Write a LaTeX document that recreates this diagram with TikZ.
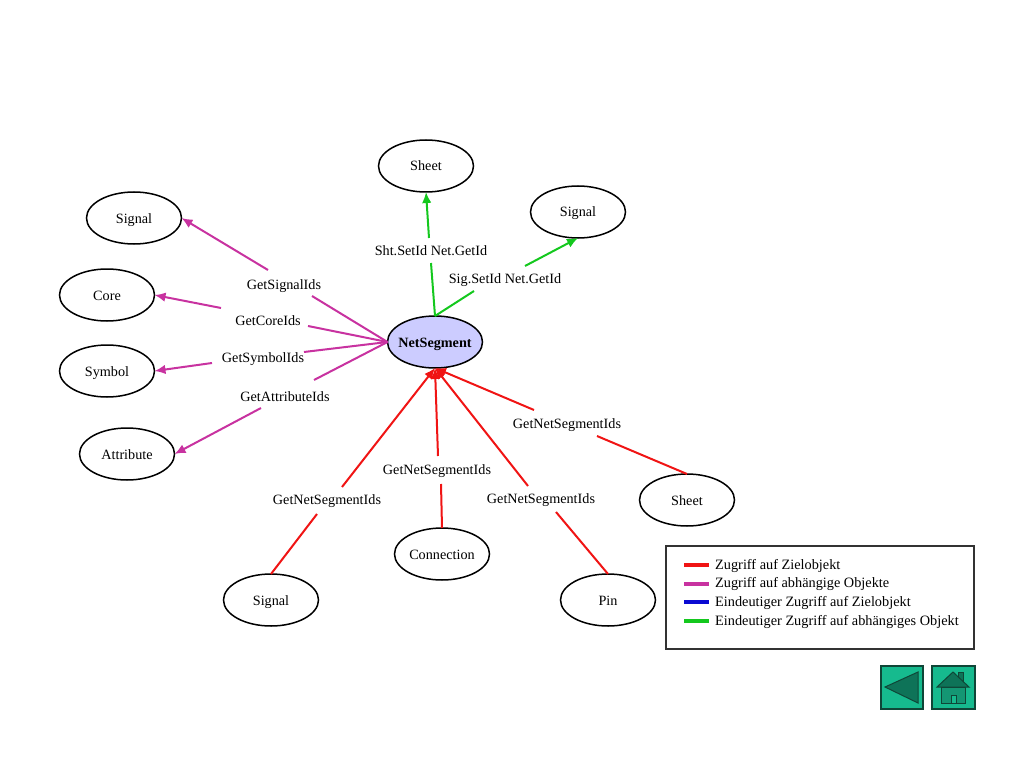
\documentclass[tikz,border=0pt]{standalone}
\usepackage{fontspec}
\setmainfont{Liberation Serif}
\usetikzlibrary{shapes.geometric,arrows.meta}
\definecolor{cred}{RGB}{240,20,20}
\definecolor{cmag}{RGB}{200,50,160}
\definecolor{cgrn}{RGB}{20,200,30}
\definecolor{cblu}{RGB}{10,10,210}
\definecolor{btn}{RGB}{22,186,142}
\definecolor{btnd}{RGB}{14,115,88}
\definecolor{btnm}{RGB}{20,150,115}
\definecolor{edgeg}{RGB}{15,70,55}
\tikzset{
 obj/.style={draw=black,line width=1.5pt,ellipse,minimum width=95pt,minimum height=52pt,inner xsep=-12pt,inner ysep=0pt,outer sep=0pt,text height=10pt,text depth=0pt,font=\fontsize{14.2}{16}\selectfont},
 lab/.style={inner sep=0pt,text height=9pt,text depth=0pt,font=\fontsize{14.2}{16}\selectfont},
 arr/.style={line width=2pt,-{Latex[length=11pt,width=9.5pt]}},
 seg/.style={line width=2pt},
 legline/.style={line width=3.4pt},
 legtxt/.style={anchor=base west,inner sep=0pt,font=\fontsize{14.3}{16}\selectfont},
 btnbox/.style={draw=edgeg,line width=1.2pt,fill=btn},
 btnpart/.style={draw=edgeg,line width=1pt,fill=btnd}
}
\begin{document}
\begin{tikzpicture}[x=1pt,y=-1pt]
\useasboundingbox (0,0) rectangle (1024,767);
% nodes
\node[obj,fill={rgb,255:red,204;green,204;blue,255},font=\fontsize{14.2}{16}\selectfont\bfseries] (ns) at (435,342) {NetSegment};
\node[obj] (sheetA) at (426,166) {Sheet};
\node[obj] (signalA) at (578,212) {Signal};
\node[obj] (signalB) at (134,218) {Signal};
\node[obj] (core) at (107,295) {Core};
\node[obj] (symbol) at (107,371) {Symbol};
\node[obj] (attr) at (127,454) {Attribute};
\node[obj] (sheetB) at (687,500) {Sheet};
\node[obj] (conn) at (442,554) {Connection};
\node[obj] (signalC) at (271,600) {Signal};
\node[obj] (pin) at (608,600) {Pin};
% labels
\node[lab] (lsig) at (284,285) {GetSignalIds};
\node[lab] (lcore) at (268,321) {GetCoreIds};
\node[lab] (lsym) at (263,358) {GetSymbolIds};
\node[lab] (lattr) at (285,397) {GetAttributeIds};
\node[lab] (lsht) at (431,251) {Sht.SetId Net.GetId};
\node[lab] (lsg) at (505,279) {Sig.SetId Net.GetId};
\node[lab] (lc) at (327,500) {GetNetSegmentIds};
\node[lab] (lcn) at (437,470) {GetNetSegmentIds};
\node[lab] (lp) at (541,499) {GetNetSegmentIds};
\node[lab] (ls) at (567,424) {GetNetSegmentIds};
% break points beside the labels
\coordinate (a1) at (312,296); \coordinate (a2) at (268,270);
\coordinate (b1) at (308,326); \coordinate (b2) at (221,308);
\coordinate (c1) at (304,352); \coordinate (c2) at (212,363);
\coordinate (d1) at (314,380); \coordinate (d2) at (261,408);
\coordinate (e1) at (431,263); \coordinate (e2) at (429,238);
\coordinate (f1) at (474,291); \coordinate (f2) at (525,266);
\coordinate (g1) at (317,514); \coordinate (g2) at (342,487);
\coordinate (h1) at (441,484); \coordinate (h2) at (438,456);
\coordinate (i1) at (556,512); \coordinate (i2) at (528,486);
\coordinate (j1) at (597,436); \coordinate (j2) at (534,410);
% magenta
\draw[seg,cmag] (ns.west) -- (a1); \draw[arr,cmag] (a2) -- (signalB.east);
\draw[seg,cmag] (ns.west) -- (b1); \draw[arr,cmag] (b2) -- (core.east);
\draw[seg,cmag] (ns.west) -- (c1); \draw[arr,cmag] (c2) -- (symbol.east);
\draw[seg,cmag] (ns.west) -- (d1); \draw[arr,cmag] (d2) -- (attr.east);
% green
\draw[seg,cgrn] (ns.north) -- (e1); \draw[arr,cgrn] (e2) -- (sheetA.south);
\draw[seg,cgrn] (ns.north) -- (f1); \draw[arr,cgrn] (f2) -- (signalA.south);
% red
\draw[seg,cred] (signalC.north) -- (g1); \draw[arr,cred] (g2) -- (ns.south);
\draw[seg,cred] (conn.north) -- (h1); \draw[arr,cred] (h2) -- (ns.south);
\draw[seg,cred] (pin.north) -- (i1); \draw[arr,cred] (i2) -- (ns.south);
\draw[seg,cred] (sheetB.north) -- (j1); \draw[arr,cred] (j2) -- (ns.south);
% legend
\node[draw={rgb,255:red,50;green,50;blue,50},line width=1.2pt,minimum width=308pt,minimum height=103pt,inner sep=0pt] (legend) at (820,597.5) {};
\draw[legline,cred] (684,565) -- (709,565);
\draw[legline,cmag] (684,584) -- (709,584);
\draw[legline,cblu] (684,602) -- (709,602);
\draw[legline,cgrn] (684,621) -- (709,621);
\node[legtxt] (t1) at (715,569) {Zugriff auf Zielobjekt};
\node[legtxt] (t2) at (715,587.5) {Zugriff auf abhängige Objekte};
\node[legtxt] (t3) at (715,606) {Eindeutiger Zugriff auf Zielobjekt};
\node[legtxt] (t4) at (715,625) {Eindeutiger Zugriff auf abhängiges Objekt};
% buttons
\draw[btnbox] (881,666) rectangle (923,709);
\draw[btnpart] (885,687) -- (918,672) -- (918,703) -- cycle;
\draw[btnbox] (932,666) rectangle (975,709);
\draw[btnpart] (958.5,672) rectangle (963.5,683);
\draw[btnpart,fill=btnm] (941,687) rectangle (965,703);
\draw[btnpart] (937,687) -- (953,672) -- (969,687) -- cycle;
\draw[btnpart,fill=btn] (951,703) -- (951,695) -- (956,695) -- (956,703);
\end{tikzpicture}
\end{document}
